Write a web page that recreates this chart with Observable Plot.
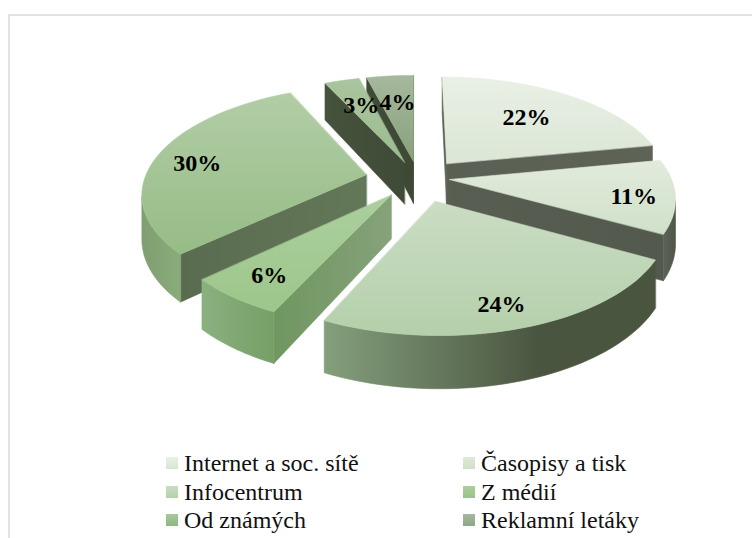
<!DOCTYPE html>
<html><head><meta charset="utf-8">
<script src="https://cdn.jsdelivr.net/npm/d3@7"></script>
<script src="https://cdn.jsdelivr.net/npm/@observablehq/plot@0.6"></script>
<style>
html,body{margin:0;padding:0;background:#fff;overflow:hidden}
#wrap{position:relative;width:752px;height:538px;overflow:hidden}
#frame{position:absolute;left:8px;top:14px;width:800px;height:600px;border:2px solid #e2e2e2;box-sizing:border-box}
#chart{position:absolute;left:0;top:0}
#legend{position:absolute;left:0;top:449px;width:752px;font:24px "Liberation Serif",serif;color:#111}
.item{position:absolute;white-space:nowrap;line-height:28px;height:28px}
.sw{position:absolute;left:-18px;top:8px;width:12px;height:12px}
</style></head><body>
<div id="wrap"><div id="frame"></div><div id="chart"></div><div id="legend"></div></div>
<script>
const legendLabels = ["Internet a soc. sítě","Časopisy a tisk","Infocentrum","Z médií","Od známých","Reklamní letáky"];
const sliceValues = [22,11,24,6,30,3,4];
const topLight = ["#e9f0e5","#e2ebdd","#cbddc4","#accf9e","#b2cda6","#a9c59f","#a6b89d"];
const topDark  = ["#dbe6d5","#cfe0c8","#b4cfaa","#9cc68a","#96bc86","#9dbb90","#87a27b"];
const sideLeft  = ["#5a6054","#585e52","#4b5641","#6f9660","#5a6c4f","#45523c","#404c37"];
const sideRight = ["#5e6358","#535a4d","#4b5641","#86a27a","#637759","#3f4b36","#3d4934"];
const outerLeft  = ["#aab5a4","#5c6356","#849f7c","#8ab080","#7f9f72","#6b7f60","#6b7f60"];
const outerRight = ["#8a9684","#505749","#4a5540","#769f65","#8aab7a","#5d7052","#5d7052"];
const outerStop  = [1,1,0.65,1,1,1,1];
const swatchLight = ["#e9f0e5","#dfe9da","#cbddc4","#accf9e","#a8c99b","#a6b89d"];
const swatchDark  = ["#d9e5d3","#cfe0c8","#b4cfaa","#98c386","#8db87e","#8fa886"];

const W = 752, Hgt = 449;
// projection of the tilted pie
const cam = {cx:413, cy:179, A:222, B:105, k:0.16, depth:43, burst:0.19, arcSteps:48};
// small per-slice sideways and depthwise corrections to the burst
const burstSide = [0.032,-0.025,0.036,0.014,-0.027,0.023,0.023];
const burstDepth = [-0.01,-0.03,0.02,-0.01,-0.01,0.01,0.01];
const proj = (X,Z,h) => { const w = 1-cam.k*Z; return {x:cam.cx+cam.A*X/w, y:cam.cy+(cam.B*Z+cam.depth*h)/w}; };
const total = d3.sum(sliceValues);
let acc = 0;
const slices = sliceValues.map((v,i)=>{
  const a0 = acc/total*2*Math.PI; acc += v; const a1 = acc/total*2*Math.PI; const mid=(a0+a1)/2;
  const bx=cam.burst*Math.sin(mid), bz=-cam.burst*Math.cos(mid);
  return {i,v,a0,a1,mid,bx,bz,ax:bx+burstSide[i],az:bz+burstDepth[i]};
});
const rim = (s,a)=>[s.ax+Math.sin(a), s.az-Math.cos(a)];
const camZ = 1/cam.k;
const marks = [];
const gradients = [];
function addFace(pts,id,c1,c2,dir,stop=1){
  gradients.push({id,c1,c2,dir,stop});
  marks.push(Plot.line(pts,{x:"x",y:"y",curve:"linear-closed",fill:`url(#${id})`,stroke:`url(#${id})`,strokeWidth:0.6}));
}
const order = [...slices].sort((a,b)=>a.az-b.az);
for(const s of order){
  const apexTop = proj(s.ax,s.az,0), apexBot = proj(s.ax,s.az,1);
  const wall = (a,sign,tag)=>{
    const [rx,rz]=rim(s,a);
    const nx=sign*Math.cos(a), nz=sign*Math.sin(a);
    const facing = (0-s.ax)*nx+(camZ-s.az)*nz;
    if(facing<=0) return;
    addFace([apexTop,proj(rx,rz,0),proj(rx,rz,1),apexBot],`w${tag}${s.i}`,sideLeft[s.i],sideRight[s.i],"h");
  };
  wall(s.a0,-1,"a");
  wall(s.a1,1,"b");
  const arc = d3.range(cam.arcSteps+1).map(j=>s.a0+(s.a1-s.a0)*j/cam.arcSteps);
  const vis = arc.filter(a=>{const [rx,rz]=rim(s,a);return (0-rx)*Math.sin(a)+(camZ-rz)*(-Math.cos(a))>0;});
  if(vis.length>1){
    const upper = vis.map(a=>{const [rx,rz]=rim(s,a);return proj(rx,rz,0);});
    const lower = vis.map(a=>{const [rx,rz]=rim(s,a);return proj(rx,rz,1);}).reverse();
    addFace([...upper,...lower],`o${s.i}`,outerLeft[s.i],outerRight[s.i],"h",outerStop[s.i]);
  }
  const topPts=[apexTop,...arc.map(a=>{const [rx,rz]=rim(s,a);return proj(rx,rz,0);})];
  addFace(topPts,`t${s.i}`,topLight[s.i],topDark[s.i],"v");
}
// radial reach and angular turn (degrees) of each percentage label inside its slice
const labelReach = [0.67,0.79,0.86,0.79,0.82,0.65,0.645];
const labelTurn = [1.5,0,-0.6,-0.8,-2.4,1.8,2];
const labels = slices.map((s,i)=>{
  const t=s.mid+labelTurn[i]*Math.PI/180;
  const p=proj(s.bx+labelReach[i]*Math.sin(t),s.bz-labelReach[i]*Math.cos(t),0);
  return {...p,t:s.v+"%"};});
marks.push(Plot.text(labels,{x:"x",y:"y",text:"t",fontFamily:"Liberation Serif",fontWeight:"bold",fontSize:24,fill:"#000"}));

const svg = Plot.plot({width:W,height:Hgt,margin:0,x:{domain:[0,W],range:[0,W],axis:null},y:{domain:[0,Hgt],range:[0,Hgt],axis:null},style:{background:"transparent",overflow:"visible"},marks});
const defs = d3.select(svg).insert("defs",":first-child");
for(const g of gradients){
  const lg=defs.append("linearGradient").attr("id",g.id).attr("x1",0).attr("y1",0).attr("x2",g.dir==="h"?1:0).attr("y2",g.dir==="h"?0:1);
  lg.append("stop").attr("offset","0").attr("stop-color",g.c1);
  lg.append("stop").attr("offset",g.stop).attr("stop-color",g.c2);
}
document.getElementById("chart").append(svg);

const lg=d3.select("#legend");
legendLabels.forEach((t,i)=>{
  const item=lg.append("div").attr("class","item").style("left",(i%2?481:184)+"px").style("top",(Math.floor(i/2)*28.5)+"px");
  item.append("span").attr("class","sw").style("background",`linear-gradient(${swatchLight[i]},${swatchDark[i]})`);
  item.append("span").text(t);
});
</script></body></html>
